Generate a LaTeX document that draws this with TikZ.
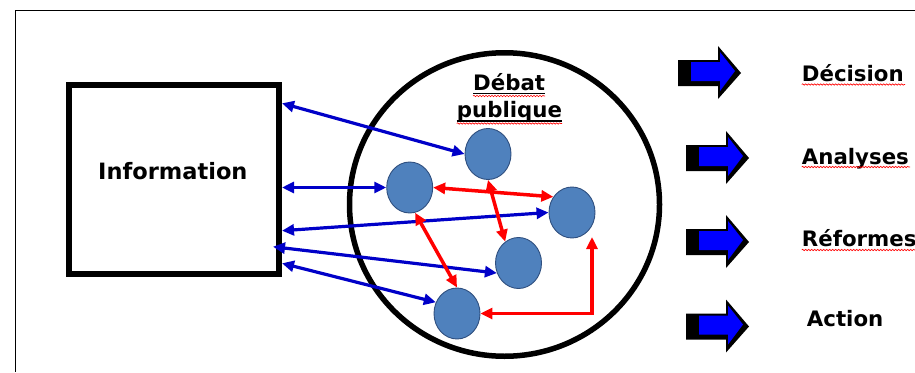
\documentclass[tikz,border=0pt]{standalone}
\usepackage{fontspec}
\setmainfont{DejaVu Sans}
\usetikzlibrary{arrows.meta,shapes.geometric,decorations.pathmorphing}
\definecolor{nodeblue}{HTML}{4F81BD}
\definecolor{nodeedge}{HTML}{2F4F7F}
\definecolor{lineblue}{HTML}{0000C8}
\definecolor{blockblue}{HTML}{0000FF}
\tikzset{
  person/.style={ellipse, fill=nodeblue, draw=nodeedge, line width=0.9pt,
    minimum width=46pt, minimum height=51pt, inner sep=0pt},
  bluelink/.style={lineblue, line width=3.2pt,
    {Triangle[length=12pt,width=11pt]}-{Triangle[length=12pt,width=11pt]}},
  redlink/.style={red, line width=3.5pt,
    {Triangle[length=12pt,width=11pt]}-{Triangle[length=12pt,width=11pt]}},
  lbl/.style={font=\bfseries\fontsize{21.3}{25}\selectfont, inner sep=0pt, anchor=base west},
  squiggle/.style={red, line width=0.6pt, decorate,
    decoration={snake, amplitude=0.7pt, segment length=3pt}},
  uline/.style={black, line width=1.8pt}
}
\newcommand\blockarr[2]{%
  \fill[black] (#1,#2-13) -- (#1+40,#2-13) -- (#1+40,#2-27) -- (#1+63,#2)
    -- (#1+40,#2+26) -- (#1+40,#2+13) -- (#1,#2+13) -- cycle;
  \fill[blockblue] (#1+13,#2-11) -- (#1+42,#2-11) -- (#1+42,#2-21) -- (#1+57,#2-2)
    -- (#1+42,#2+18) -- (#1+42,#2+8) -- (#1+13,#2+8) -- cycle;
}
\begin{document}
\begin{tikzpicture}[x=1pt,y=-1pt]
\useasboundingbox (0,0) rectangle (915,372);
% outer frame
\draw[line width=1.3pt] (915,10.5) -- (15.5,10.5) -- (15.5,372);

% information box
\node[draw, line width=6pt, minimum width=210pt, minimum height=189pt, inner sep=0pt]
  (info) at (174,179.5) {};
\node[lbl, font=\bfseries\fontsize{22.5}{26}\selectfont] (infotext) at (98,179.3) {Information};

% debate circle
\node[ellipse, draw, line width=5.5pt, minimum width=310pt, minimum height=303.5pt, inner sep=0pt]
  (debate) at (504.5,204.5) {};
\node[lbl] (deb) at (473,90) {Débat};
\node[lbl] (pub) at (456.7,117) {publique};
\draw[uline] (473,93.5) -- (545,93.5);
\draw[uline] (456.7,121) -- (562,121);
\draw[squiggle] (473,96) -- (545,96);
\draw[squiggle] (456.7,123.5) -- (562,123.5);

% participants
\node[person] (c1) at (488,154) {};
\node[person] (c2) at (409.7,187.5) {};
\node[person] (c3) at (572,212.5) {};
\node[person] (c4) at (518.5,263) {};
\node[person] (c5) at (457,313.5) {};

% blue links
\coordinate (dl) at (273,246.7);
\draw[bluelink] (info.east |- 0,103.3) -- (c1.west);
\draw[bluelink] (info.east |- 0,187.5) -- (c2.west);
\draw[bluelink] (info.east |- 0,230.7) -- (c3.west);
\draw[bluelink] (dl) -- (c4.205);
\draw[bluelink] (info.east |- 0,263.3) -- (c5.152);

% red links
\coordinate (rc) at (592,237);
\draw[redlink] (c2.east) -- (c3.140);
\draw[redlink] (c1.south) -- (c4.122);
\draw[redlink] (c2.282) -- (c5.north);
\draw[redlink] (c5.east) -| (rc);

% block arrows and outcomes
\blockarr{678}{73}
\blockarr{686}{158}
\blockarr{686}{242}
\blockarr{686}{326.5}
\node[lbl] (o1) at (801.7,81.7) {Décision};
\node[lbl] (o2) at (801.7,164) {Analyses};
\node[lbl] (o3) at (801.7,246.7) {Réformes};
\node[lbl] (o4) at (806.7,326.7) {Action};
\draw[squiggle] (801.7,84.5) -- (905,84.5);
\draw[squiggle] (801.7,167) -- (910,167);
\draw[squiggle] (801.7,250) -- (915,250);
\end{tikzpicture}
\end{document}
